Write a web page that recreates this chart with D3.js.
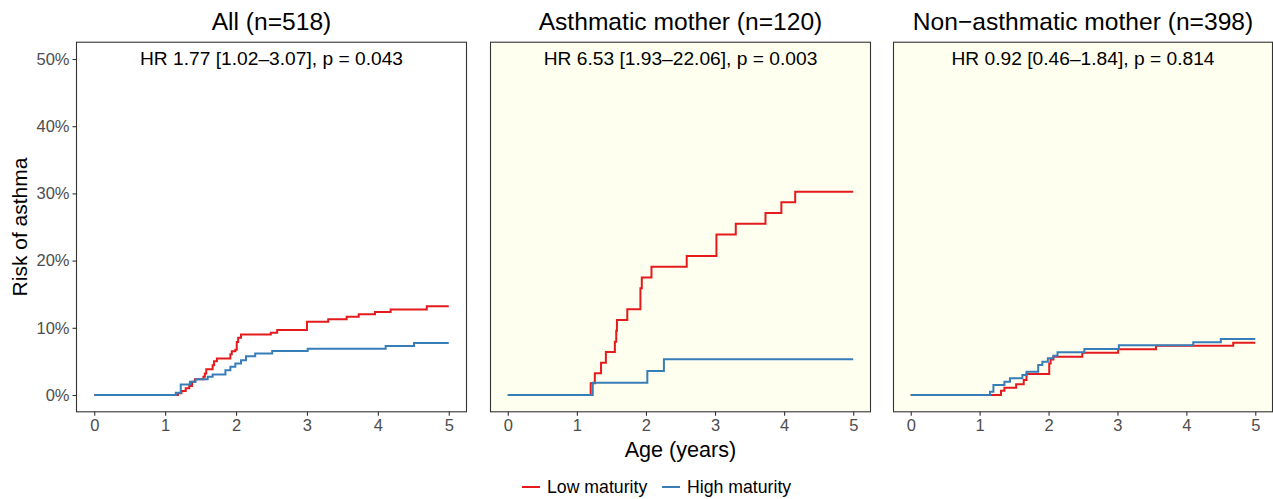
<!DOCTYPE html>
<html>
<head>
<meta charset="utf-8">
<script src="https://cdn.jsdelivr.net/npm/d3@7"></script>
<style>
  html, body { margin: 0; padding: 0; background: #ffffff; }
  svg { display: block; font-family: "Liberation Sans", Arial, Helvetica, sans-serif; }
</style>
</head>
<body>
<svg id="chart" width="1273" height="499"></svg>
<script>
// Cumulative risk of asthma (1 - KM survival), event times in years
const seriesNames = ["Low maturity", "High maturity"];
const seriesColors = ["#e41a1c", "#377eb8"];

const xTicks = [0, 1, 2, 3, 4, 5];
const yTicks = [0, 0.1, 0.2, 0.3, 0.4, 0.5];

const panelTitles = ["All (n=518)", "Asthmatic mother (n=120)", "Non\u2212asthmatic mother (n=398)"];
const hrLabels = [
  "HR 1.77 [1.02\u20133.07], p = 0.043",
  "HR 6.53 [1.93\u201322.06], p = 0.003",
  "HR 0.92 [0.46\u20131.84], p = 0.814"
];

// [time, cumulative risk]
const allLow = [
  [0, 0], [1.18, 0.0025], [1.23, 0.0059], [1.29, 0.0099], [1.34, 0.0133], [1.38, 0.0197],
  [1.42, 0.0236], [1.54, 0.0271], [1.56, 0.032], [1.58, 0.0384], [1.67, 0.0443],
  [1.69, 0.0502], [1.73, 0.0542], [1.92, 0.0606], [1.94, 0.065], [1.99, 0.0675],
  [2.01, 0.0788], [2.03, 0.0852], [2.07, 0.0901], [2.49, 0.0926], [2.58, 0.0966],
  [3.0, 0.1089], [3.3, 0.1128], [3.56, 0.1163], [3.73, 0.1202], [3.96, 0.1236],
  [4.18, 0.1271], [4.69, 0.132], [5, 0.132]
];
const allHigh = [
  [0, 0], [1.15, 0.0034], [1.22, 0.0158], [1.35, 0.0197], [1.43, 0.0236], [1.6, 0.0271],
  [1.67, 0.0305], [1.85, 0.0369], [1.92, 0.0419], [1.99, 0.0468], [2.07, 0.0517],
  [2.14, 0.0576], [2.27, 0.0616], [2.51, 0.0655], [3.01, 0.069], [4.11, 0.0729],
  [4.51, 0.0773], [5, 0.0773]
];
const asthLow = [
  [0, 0], [1.2, 0.0174], [1.26, 0.0322], [1.35, 0.048], [1.42, 0.064], [1.55, 0.0794],
  [1.57, 0.0957], [1.58, 0.1116], [1.73, 0.1275], [1.92, 0.1587], [1.94, 0.175],
  [2.08, 0.191], [2.59, 0.2068], [3.02, 0.239], [3.3, 0.255], [3.73, 0.2708],
  [3.96, 0.2867], [4.16, 0.3026], [5, 0.3026]
];
const asthHigh = [
  [0, 0], [1.23, 0.0184], [2.02, 0.0357], [2.26, 0.0531], [5, 0.0531]
];
const nonLow = [
  [0, 0], [1.31, 0.0064], [1.36, 0.0109], [1.53, 0.0159], [1.64, 0.0223], [1.68, 0.0313],
  [2.01, 0.047], [2.03, 0.053], [2.07, 0.057], [2.49, 0.063], [3.01, 0.068],
  [3.56, 0.0734], [4.68, 0.0779], [5, 0.0779]
];
const nonHigh = [
  [0, 0], [1.15, 0.005], [1.2, 0.0149], [1.36, 0.0198], [1.44, 0.0248], [1.62, 0.0298],
  [1.68, 0.0347], [1.85, 0.0446], [1.91, 0.0496], [1.99, 0.0546], [2.07, 0.0585],
  [2.13, 0.0635], [2.52, 0.0685], [3.02, 0.0739], [4.1, 0.0784], [4.5, 0.0833],
  [5, 0.0833]
];

const panelSeries = [[allLow, allHigh], [asthLow, asthHigh], [nonLow, nonHigh]];
const panelFill = ["#ffffff", "#fffff0", "#fffff0"];

const svg = d3.select("#chart");

// panel boxes (left, right) and shared vertical extent
const panels = [
  { x0: 76.5, x1: 466.5 },
  { x0: 490.5, x1: 870.5 },
  { x0: 893.5, x1: 1272.5 }
];
const panelTop = 42.2, panelBottom = 411.8;

const y = d3.scaleLinear().domain([-0.025, 0.525]).range([panelBottom, panelTop]);
const ink = "#333333";
const tickInk = "#4d4d4d";

panels.forEach((p, i) => {
  const x = d3.scaleLinear().domain([-0.25, 5.25]).range([p.x0, p.x1]);
  const g = svg.append("g");

  g.append("rect")
    .attr("x", p.x0).attr("y", panelTop)
    .attr("width", p.x1 - p.x0).attr("height", panelBottom - panelTop)
    .attr("fill", panelFill[i]);

  const line = d3.line()
    .x(d => x(d[0]))
    .y(d => y(d[1]))
    .curve(d3.curveStepAfter);

  // low maturity first, high maturity on top
  [0, 1].forEach(s => {
    g.append("path")
      .datum(panelSeries[i][s])
      .attr("d", line)
      .attr("fill", "none")
      .attr("stroke", seriesColors[s])
      .attr("stroke-width", 2);
  });

  g.append("rect")
    .attr("x", p.x0).attr("y", panelTop)
    .attr("width", p.x1 - p.x0).attr("height", panelBottom - panelTop)
    .attr("fill", "none")
    .attr("stroke", ink)
    .attr("stroke-width", 1.1);

  // x axis
  const xa = g.append("g")
    .attr("transform", `translate(0,${panelBottom})`)
    .call(d3.axisBottom(x).tickValues(xTicks).tickSize(4).tickPadding(3).tickFormat(d3.format("d")));
  xa.select(".domain").remove();
  xa.selectAll(".tick line").attr("stroke", ink).attr("stroke-width", 1.1);
  xa.selectAll(".tick text")
    .attr("fill", tickInk)
    .style("font-size", "16.5px")
    .style("font-family", "'Liberation Sans', Arial, sans-serif");

  // y axis only on the first panel
  if (i === 0) {
    const ya = g.append("g")
      .attr("transform", `translate(${p.x0},0)`)
      .call(d3.axisLeft(y).tickValues(yTicks).tickSize(4).tickPadding(3).tickFormat(d3.format(".0%")));
    ya.select(".domain").remove();
    ya.selectAll(".tick line").attr("stroke", ink).attr("stroke-width", 1.1);
    ya.selectAll(".tick text")
      .attr("fill", tickInk)
      .style("font-size", "16.5px")
      .style("font-family", "'Liberation Sans', Arial, sans-serif");
  }

  // panel title
  g.append("text")
    .attr("x", (p.x0 + p.x1) / 2)
    .attr("y", 30)
    .attr("text-anchor", "middle")
    .attr("fill", "#000")
    .style("font-size", "24.6px")
    .text(panelTitles[i]);

  // hazard ratio annotation
  g.append("text")
    .attr("x", (p.x0 + p.x1) / 2)
    .attr("y", 65)
    .attr("text-anchor", "middle")
    .attr("fill", "#000")
    .style("font-size", "19.2px")
    .text(hrLabels[i]);
});

// axis titles
svg.append("text")
  .attr("transform", `translate(27,${(panelTop + panelBottom) / 2}) rotate(-90)`)
  .attr("text-anchor", "middle")
  .attr("fill", "#000")
  .style("font-size", "21px")
  .text("Risk of asthma");

svg.append("text")
  .attr("x", (panels[1].x0 + panels[1].x1) / 2)
  .attr("y", 457)
  .attr("text-anchor", "middle")
  .attr("fill", "#000")
  .style("font-size", "21.6px")
  .text("Age (years)");

// legend
const legend = svg.append("g").attr("transform", "translate(522,487)");
const legendX = [0, 140];
seriesNames.forEach((name, s) => {
  const lg = legend.append("g").attr("transform", `translate(${legendX[s]},0)`);
  lg.append("line")
    .attr("x1", 0).attr("x2", 18).attr("y1", 0).attr("y2", 0)
    .attr("stroke", seriesColors[s]).attr("stroke-width", 2);
  lg.append("text")
    .attr("x", 25).attr("y", 6)
    .attr("fill", "#000")
    .style("font-size", "17.7px")
    .text(name);
});
</script>
</body>
</html>
